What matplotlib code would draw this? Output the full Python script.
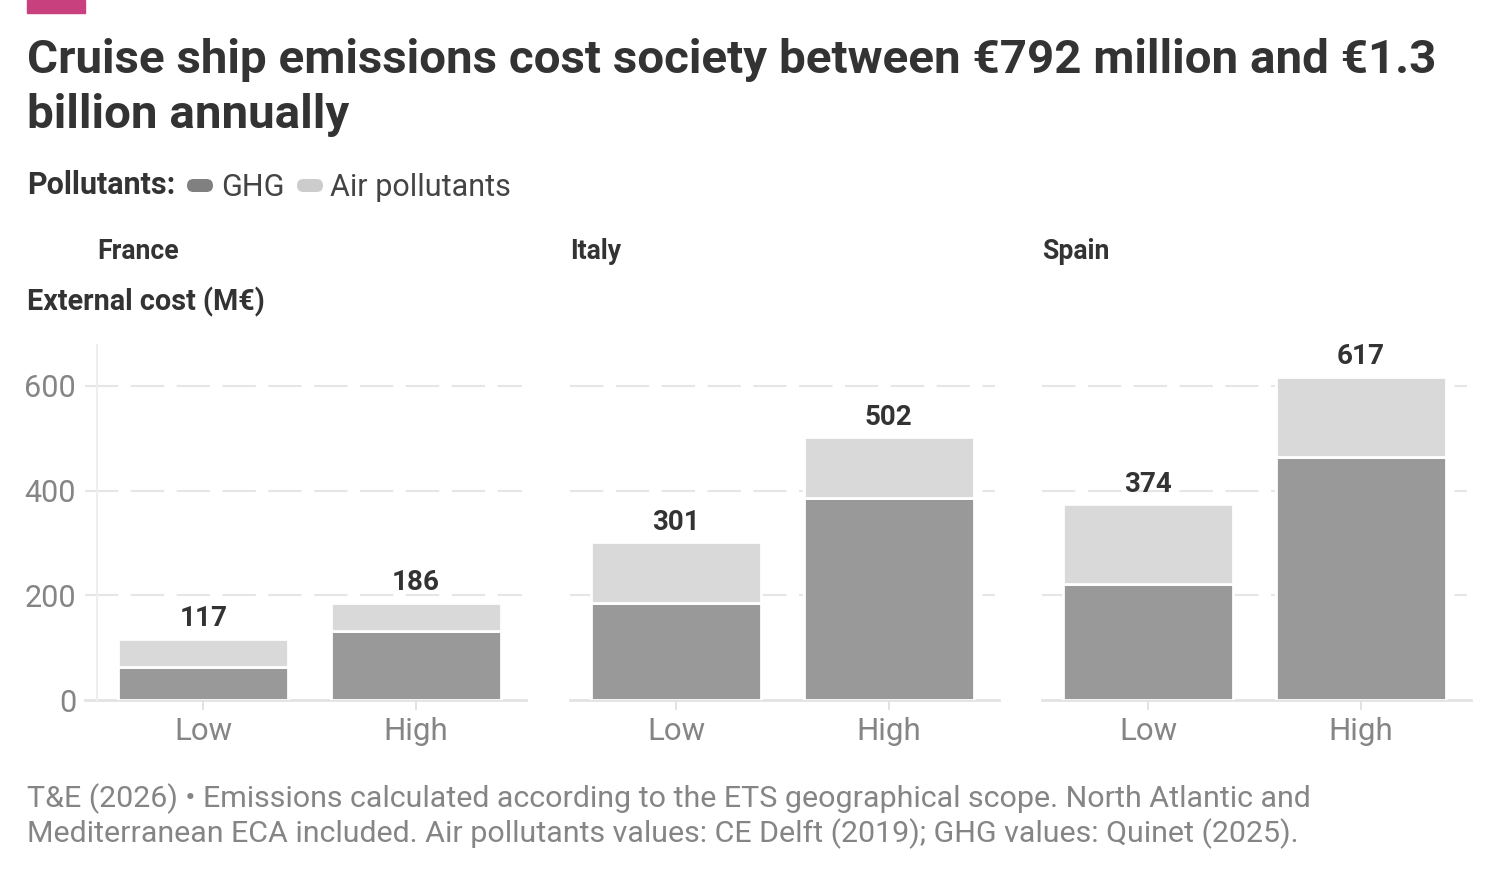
import numpy as np
import matplotlib.pyplot as plt
from matplotlib.patches import FancyBboxPatch, Rectangle

plt.rcParams['font.family'] = ['Roboto', 'DejaVu Sans']

# data (M€)
countries = ['France', 'Italy', 'Spain']
scenarios = ['Low', 'High']
ghg = [[63, 132], [185, 386], [222, 465]]
air = [[54, 54], [116, 116], [152, 152]]
y_ticks = [0, 200, 400, 600]

title = ("Cruise ship emissions cost society between €792 million and €1.3\n"
         "billion annually")
footer = ["T&E (2026) • Emissions calculated according to the ETS geographical scope. North Atlantic and",
          "Mediterranean ECA included. Air pollutants values: CE Delft (2019); GHG values: Quinet (2025)."]

C_GHG = '#999999'
C_AIR = '#d9d9d9'
C_DARK = '#333333'
C_GREY = '#858585'
C_GRID = '#e6e6e6'

W, H = 1500, 877
fig = plt.figure(figsize=(W / 100, H / 100), dpi=100)

# canvas axes in pixel coords for all the free text
cv = fig.add_axes([0, 0, 1, 1])
cv.set_xlim(0, W)
cv.set_ylim(H, 0)
cv.axis('off')

cv.add_patch(Rectangle((27, 0), 58, 13, color='#c8417e'))
lines = title.split('\n')
cv.text(27, 73, lines[0], fontsize=34.2, fontweight='bold', color=C_DARK, va='baseline')
cv.text(27, 128, lines[1], fontsize=34.2, fontweight='bold', color=C_DARK, va='baseline')

# legend
cv.text(27, 194, 'Pollutants:', fontsize=22, fontweight='bold', color=C_DARK, va='baseline')
cv.add_patch(FancyBboxPatch((187, 179), 26, 13, boxstyle='round,pad=0,rounding_size=6.5',
                            fc='#808080', ec='none'))
cv.text(221, 196, 'GHG', fontsize=22, color='#444444', va='baseline')
cv.add_patch(FancyBboxPatch((297, 179), 26, 13, boxstyle='round,pad=0,rounding_size=6.5',
                            fc='#cccccc', ec='none'))
cv.text(330, 196, 'Air pollutants', fontsize=22, color='#444444', va='baseline')

cv.text(27, 310, 'External cost (M€)', fontsize=20.7, fontweight='bold', color=C_DARK, va='baseline')

cv.text(27, 807, footer[0], fontsize=21.9, color=C_GREY, va='baseline')
cv.text(27, 842, footer[1], fontsize=21.9, color=C_GREY, va='baseline')

# panels
lefts = [97, 570, 1042]
pw = 425
top, bottom = 345, 700
x = np.arange(len(scenarios))

for i, c in enumerate(countries):
    ax = fig.add_axes([lefts[i] / W, 1 - bottom / H, pw / W, (bottom - top) / H])
    ax.patch.set_alpha(0)
    cv.text(lefts[i], 259, c, fontsize=19.2, fontweight='bold', color=C_DARK, va='baseline')

    g = np.array(ghg[i])
    a = np.array(air[i])
    ax.bar(x, g, width=0.8, color=C_GHG, edgecolor='white', linewidth=2, zorder=3)
    ax.bar(x, a, width=0.8, bottom=g, color=C_AIR, edgecolor='white', linewidth=2, zorder=3)
    for xi, tot in zip(x, g + a):
        ax.annotate(str(tot), (xi, tot), xytext=(0, 9), textcoords='offset points',
                    ha='center', va='baseline', fontsize=20, fontweight='bold', color=C_DARK)

    ax.set_xlim(-0.5, 1.5)
    ax.set_ylim(0, 678)
    for t in y_ticks[1:]:
        ax.axhline(t, color=C_GRID, lw=1.5, dashes=(16, 6), zorder=1,
                   xmin=(-12 / pw if i == 0 else 0), clip_on=False)
    ax.axhline(0, color='#e3e3e3', lw=2, zorder=2,
               xmin=(-12 / pw if i == 0 else 0), xmax=1.01, clip_on=False)

    for s in ax.spines.values():
        s.set_visible(False)
    if i == 0:
        ax.spines['left'].set_visible(True)
        ax.spines['left'].set_color('#eeeeee')
        ax.spines['left'].set_linewidth(1.5)
        ax.set_yticks(y_ticks)
        ax.tick_params(axis='y', length=0, pad=15, labelsize=22, labelcolor=C_GREY)
    else:
        ax.set_yticks([])

    ax.set_xticks(x)
    ax.set_xticklabels(scenarios)
    ax.tick_params(axis='x', length=7, width=1.2, color='#dddddd', pad=5,
                   labelsize=22.5, labelcolor=C_GREY)

fig.savefig('out.png', dpi=100, facecolor='white')
